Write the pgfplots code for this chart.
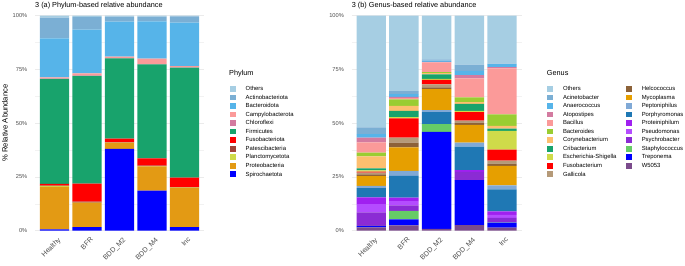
\documentclass[border=0pt]{standalone}
\usepackage{fontspec}
\setmainfont{Liberation Sans}
\usepackage{pgfplots}
\usepackage{pgfplotstable}
\pgfplotsset{compat=1.18}

% Phylum colours
\definecolor{pOthers}{HTML}{A6CEE3}
\definecolor{pActino}{HTML}{7BAFD4}
\definecolor{pBactero}{HTML}{56B4E9}
\definecolor{pCampylo}{HTML}{FB9A99}
\definecolor{pChloro}{HTML}{D37BA0}
\definecolor{pFirmi}{HTML}{18A36C}
\definecolor{pFuso}{HTML}{FF0000}
\definecolor{pPatesci}{HTML}{A0453A}
\definecolor{pPlancto}{HTML}{CFDB4A}
\definecolor{pProteo}{HTML}{E39A14}
\definecolor{pSpiro}{HTML}{0000FF}
% Genus colours
\definecolor{gOthers}{HTML}{A6CEE3}
\definecolor{gAcineto}{HTML}{7BAFD4}
\definecolor{gAnaero}{HTML}{56B4E9}
\definecolor{gAtopo}{HTML}{D37BA0}
\definecolor{gBacil}{HTML}{FB9A99}
\definecolor{gBactero}{HTML}{9ACD32}
\definecolor{gCoryne}{HTML}{FDBF6F}
\definecolor{gCrib}{HTML}{18A36C}
\definecolor{gEsch}{HTML}{CFDB4A}
\definecolor{gFuso}{HTML}{FF0000}
\definecolor{gGalli}{HTML}{B59A78}
\definecolor{gHelco}{HTML}{8C6239}
\definecolor{gMyco}{HTML}{E69F00}
\definecolor{gPepto}{HTML}{80A9D6}
\definecolor{gPorphy}{HTML}{1F78B4}
\definecolor{gProteini}{HTML}{A020F0}
\definecolor{gPseudo}{HTML}{B44CFF}
\definecolor{gPsychro}{HTML}{8B2BD4}
\definecolor{gStaph}{HTML}{66CC66}
\definecolor{gTrep}{HTML}{0000FF}
\definecolor{gWfive}{HTML}{7B4B8C}

\definecolor{tickc}{HTML}{4D4D4D}
\definecolor{gridc}{HTML}{EBEBEB}
\definecolor{gridm}{HTML}{F2F2F2}

\pgfplotstableread{
idx Spiro Proteo Plancto Patesci Fuso Firmi Chloro Campylo Bactero Actino Others
0 0.6 19.8 0.5 0.1 0.8 48.8 0.1 0.6 18.2 9.6 0.9
1 1.7 11.3 0.1 0.4 8.4 50.1 0.1 1.1 20.3 5.9 0.6
2 38.0 2.9 0.1 0.1 1.7 37.4 0.1 0.7 16.2 2.4 0.4
3 18.6 11.3 0.1 0.3 3.3 43.8 0.1 2.5 17.4 2.2 0.4
4 1.7 18.3 0.1 0.2 4.4 51.2 0.1 0.5 20.3 2.9 0.3
}\phylum

\pgfplotstableread{
idx Wfive Trep Staph Psychro Pseudo Proteini Porphy Pepto Myco Helco Galli Fuso Esch Crib Coryne Bactero Bacil Atopo Anaero Acineto Others
0 1.5 0.6 0.2 6.2 3.9 3.1 4.3 1.1 4.5 0.8 0.8 0.5 0.5 1.0 5.6 1.7 4.8 2.2 1.6 3.1 52.0
1 2.5 2.8 3.9 2.6 2.0 1.6 10.1 2.3 11.0 2.2 2.3 9.0 0.5 2.9 2.3 3.1 0.6 0.6 1.2 1.4 35.1
2 0.9 45.1 3.6 0.0 0.0 0.0 5.6 0.9 9.7 0.9 1.4 2.0 0.5 2.1 0.6 0.5 4.5 0.2 0.6 0.6 20.3
3 2.6 20.9 0.0 3.9 0.0 0.8 10.9 1.9 8.2 1.1 0.9 4.0 0.5 3.3 0.8 2.2 8.8 1.6 1.9 2.9 22.8
4 1.4 2.3 0.2 2.1 1.4 1.6 10.2 1.9 9.0 1.1 1.4 5.1 8.7 1.1 1.2 5.4 21.4 0.6 1.4 0.2 22.3
}\genus

\newcommand{\ttl}{\fontsize{7.3}{8.5}\selectfont}
\newcommand{\ytk}{\fontsize{5.7}{6.5}\selectfont}
\newcommand{\xtk}{\fontsize{7}{8}\selectfont}
\newcommand{\lgd}{\fontsize{5.9}{6.8}\selectfont}

\pgfplotsset{
  panel/.style={
    scale only axis, height=215pt,
    anchor=south west,
    ybar stacked, bar width=0.9,
    xmin=-0.6, xmax=4.6, ymin=0, ymax=100,
    ytick={0,25,50,75,100},
    yticklabels={0\%,25\%,50\%,75\%,100\%},
    minor ytick={12.5,37.5,62.5,87.5},
    ymajorgrids, yminorgrids,
    major grid style={draw=gridc, line width=0.6pt},
    minor grid style={draw=gridm, line width=0.4pt},
    axis line style={draw=none},
    tick style={draw=none},
    xtick={0,1,2,3,4},
    xticklabels={Healthy,BFR,BDD\_M2,BDD\_M4,Inc},
    x tick label style={xshift=3pt, yshift=-6pt, rotate=45, anchor=north east, inner sep=0pt, font=\xtk, text=tickc},
    y tick label style={anchor=east, inner sep=0pt, xshift=-7.5pt, font=\ytk, text=tickc},
    clip=false,
  },
  legax/.style={
    hide axis, scale only axis, width=10pt, height=10pt,
    xmin=0, xmax=1, ymin=0, ymax=1,
    anchor=origin,
    legend cell align=left,
    legend image code/.code={\fill[#1] (0pt,-2.85pt) rectangle (5.7pt,2.85pt); \path[fill=none,draw=none] (0pt,-4.265pt) rectangle (15.7pt,4.265pt);},
    legend style={at={(0,0)}, anchor=north west, draw=none, fill=none,
      inner sep=0pt, outer sep=0pt, row sep=0pt, font=\lgd,
      cells={anchor=west},
      nodes={inner sep=0pt, text height=4.3pt, text depth=0.8pt}},
  },
}

\begin{document}
\begin{tikzpicture}[x=1pt,y=1pt]
\useasboundingbox (0,0) rectangle (685,265);

% ---------- Panel (a) ----------
\begin{axis}[panel, width=169pt, at={(35pt,34.3pt)}]
\pgfplotsinvokeforeach{Spiro,Proteo,Plancto,Patesci,Fuso,Firmi,Chloro,Campylo,Bactero,Actino,Others}{
  \addplot[fill=p#1, draw=none] table[x=idx, y=#1] {\phylum};
}
\end{axis}

% ---------- Panel (b) ----------
\begin{axis}[panel, width=170pt, at={(351.6pt,34.3pt)}]
\pgfplotsinvokeforeach{Wfive,Trep,Staph,Psychro,Pseudo,Proteini,Porphy,Pepto,Myco,Helco,Galli,Fuso,Esch,Crib,Coryne,Bactero,Bacil,Atopo,Anaero,Acineto,Others}{
  \addplot[fill=g#1, draw=none] table[x=idx, y=#1] {\genus};
}
\end{axis}

% titles and labels
\node[anchor=base west, inner sep=0pt, font=\ttl] at (35,257.8) {3 (a) Phylum-based relative abundance};
\node[anchor=base west, inner sep=0pt, font=\ttl] at (351.6,257.8) {3 (b) Genus-based relative abundance};
\node[rotate=90, inner sep=0pt, font=\fontsize{7.6}{9}\selectfont] at (4.8,142) {\% Relative Abundance};
\node[anchor=base west, inner sep=0pt, font=\ttl] at (229,189.1) {Phylum};
\node[anchor=base west, inner sep=0pt, font=\ttl] at (546.7,189.1) {Genus};

% ---------- Legend (a) ----------
\begin{axis}[legax, at={(230pt,180.27pt)}]
\addlegendimage{fill=pOthers, draw=none}\addlegendentry{Others}
\addlegendimage{fill=pActino, draw=none}\addlegendentry{Actinobacteriota}
\addlegendimage{fill=pBactero, draw=none}\addlegendentry{Bacteroidota}
\addlegendimage{fill=pCampylo, draw=none}\addlegendentry{Campylobacterota}
\addlegendimage{fill=pChloro, draw=none}\addlegendentry{Chloroflexi}
\addlegendimage{fill=pFirmi, draw=none}\addlegendentry{Firmicutes}
\addlegendimage{fill=pFuso, draw=none}\addlegendentry{Fusobacteriota}
\addlegendimage{fill=pPatesci, draw=none}\addlegendentry{Patescibacteria}
\addlegendimage{fill=pPlancto, draw=none}\addlegendentry{Planctomycetota}
\addlegendimage{fill=pProteo, draw=none}\addlegendentry{Proteobacteria}
\addlegendimage{fill=pSpiro, draw=none}\addlegendentry{Spirochaetota}
\end{axis}

% ---------- Legend (b) ----------
\begin{axis}[legax, at={(547.3pt,180.27pt)}, legend columns=2,
  legend style={/tikz/every even column/.append style={column sep=9.6pt}}]
\addlegendimage{fill=gOthers, draw=none}\addlegendentry{Others}
\addlegendimage{fill=gHelco, draw=none}\addlegendentry{Helcococcus}
\addlegendimage{fill=gAcineto, draw=none}\addlegendentry{Acinetobacter}
\addlegendimage{fill=gMyco, draw=none}\addlegendentry{Mycoplasma}
\addlegendimage{fill=gAnaero, draw=none}\addlegendentry{Anaerococcus}
\addlegendimage{fill=gPepto, draw=none}\addlegendentry{Peptoniphilus}
\addlegendimage{fill=gAtopo, draw=none}\addlegendentry{Atopostipes}
\addlegendimage{fill=gPorphy, draw=none}\addlegendentry{Porphyromonas}
\addlegendimage{fill=gBacil, draw=none}\addlegendentry{Bacillus}
\addlegendimage{fill=gProteini, draw=none}\addlegendentry{Proteiniphilum}
\addlegendimage{fill=gBactero, draw=none}\addlegendentry{Bacteroides}
\addlegendimage{fill=gPseudo, draw=none}\addlegendentry{Pseudomonas}
\addlegendimage{fill=gCoryne, draw=none}\addlegendentry{Corynebacterium}
\addlegendimage{fill=gPsychro, draw=none}\addlegendentry{Psychrobacter}
\addlegendimage{fill=gCrib, draw=none}\addlegendentry{Cribacterium}
\addlegendimage{fill=gStaph, draw=none}\addlegendentry{Staphylococcus}
\addlegendimage{fill=gEsch, draw=none}\addlegendentry{Escherichia-Shigella}
\addlegendimage{fill=gTrep, draw=none}\addlegendentry{Treponema}
\addlegendimage{fill=gFuso, draw=none}\addlegendentry{Fusobacterium}
\addlegendimage{fill=gWfive, draw=none}\addlegendentry{W5053}
\addlegendimage{fill=gGalli, draw=none}\addlegendentry{Gallicola}
\end{axis}
\end{tikzpicture}
\end{document}
